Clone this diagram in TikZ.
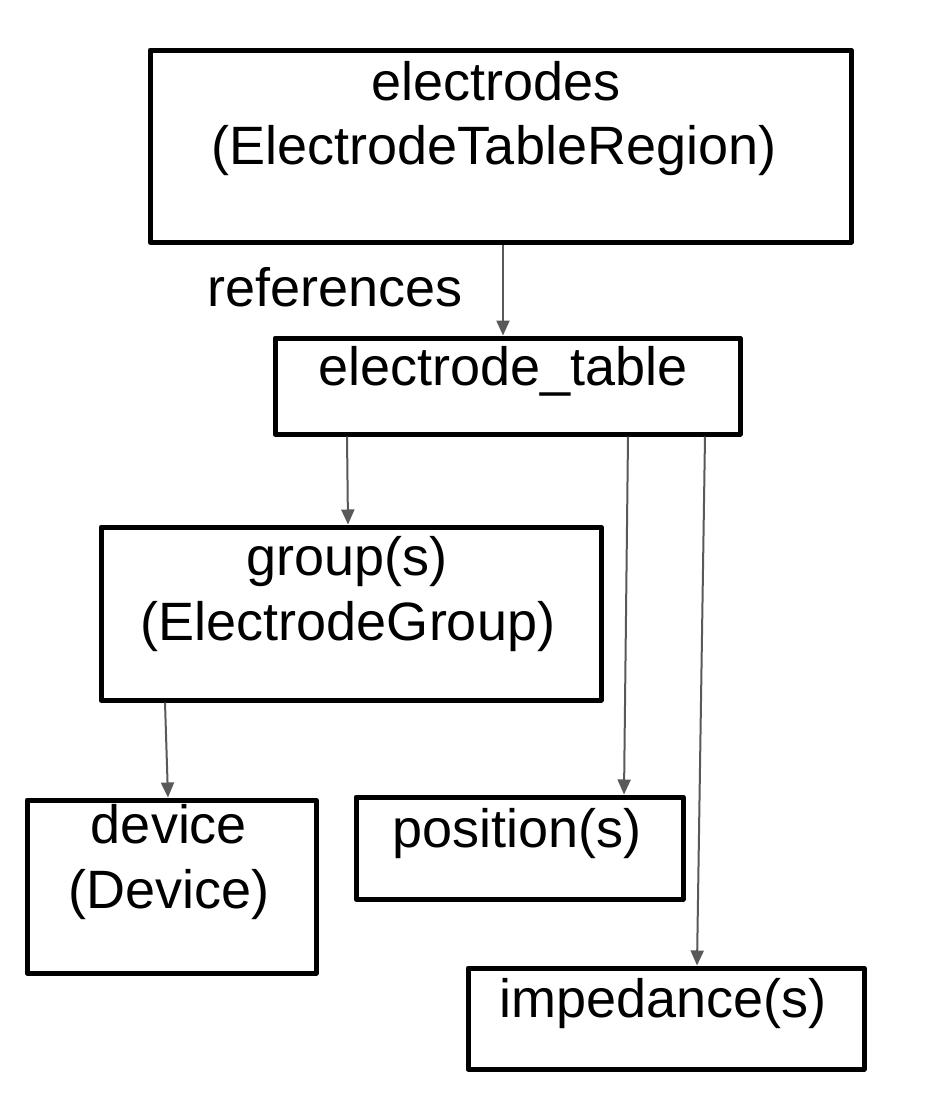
\documentclass[tikz,border=0pt]{standalone}
\usepackage{fontspec}
\setmainfont{Liberation Sans}
\usetikzlibrary{arrows.meta}
\definecolor{arrowgray}{HTML}{595959}
\begin{document}
\begin{tikzpicture}[x=1pt,y=-1pt,
  box/.style={draw=black, line width=5pt, line join=round, inner sep=0pt, anchor=north west},
  lbl/.style={font=\fontsize{54}{65}\selectfont, anchor=base, inner sep=0pt},
  conn/.style={draw=arrowgray, line width=2pt, -{Triangle[length=15pt,width=13pt]}}]
\fill[white] (0,0) rectangle (940,1114);
\useasboundingbox (0,0) rectangle (940,1114);

% boxes
\node[box, minimum width=701pt, minimum height=192pt] (er) at (147.5,47.5) {};
\node[box, minimum width=465pt, minimum height=96pt] (et) at (272.5,335.5) {};
\node[box, minimum width=500pt, minimum height=173pt] (grp) at (98.5,524.5) {};
\node[box, minimum width=289pt, minimum height=173pt] (dev) at (24.5,797.5) {};
\node[box, minimum width=327pt, minimum height=102pt] (pos) at (353.5,794.5) {};
\node[box, minimum width=396pt, minimum height=101pt] (imp) at (465.5,965.5) {};

% texts
\node[lbl] (er1) at (496,100) {electrodes};
\node[lbl] (er2) at (494,164) {(ElectrodeTableRegion)};
\node[lbl] (refs) at (335,306) {references};
\node[lbl] (et1) at (503,385) {electrode\_table};
\node[lbl] (grp1) at (347,575) {group(s)};
\node[lbl] (grp2) at (348,640) {(ElectrodeGroup)};
\node[lbl] (dev1) at (169,843) {device};
\node[lbl] (dev2) at (169,908) {(Device)};
\node[lbl] (pos1) at (517,847) {position(s)};
\node[lbl] (imp1) at (663,1017) {impedance(s)};

% connectors
\draw[conn] ([xshift=355.5pt]er.south west) -- ([xshift=230.5pt]et.north west);
\draw[conn] ([xshift=74.5pt]et.south west) -- ([xshift=249.5pt]grp.north west);
\draw[conn] ([xshift=355.5pt]et.south west) -- ([xshift=270.5pt]pos.north west);
\draw[conn] ([xshift=432.5pt]et.south west) -- ([xshift=231.5pt]imp.north west);
\draw[conn] ([xshift=66.5pt]grp.south west) -- ([xshift=143.5pt]dev.north west);
\end{tikzpicture}
\end{document}
